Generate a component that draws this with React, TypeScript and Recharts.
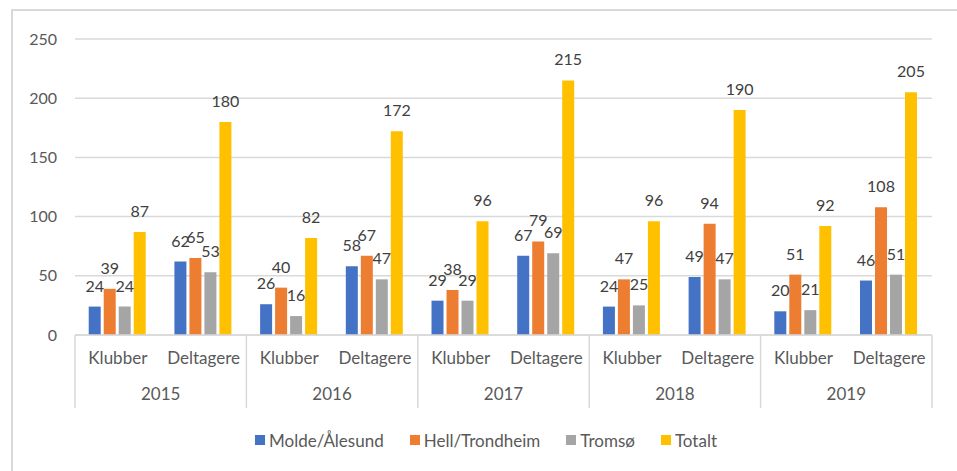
import React from 'react'
import { BarChart, Bar, XAxis, YAxis, CartesianGrid, Legend, LabelList } from 'recharts'

const years = ['2015', '2016', '2017', '2018', '2019']
const groups = ['Klubber', 'Deltagere']
const molde = [24, 62, 26, 58, 29, 67, 24, 49, 20, 46]
const hell = [39, 65, 40, 67, 38, 79, 47, 94, 51, 108]
const tromso = [24, 53, 16, 47, 29, 69, 25, 47, 21, 51]
const totalt = [87, 180, 82, 172, 96, 215, 96, 190, 92, 205]
const yTicks = [0, 50, 100, 150, 200, 250]

const series = [
  { key: 'molde', name: 'Molde/Ålesund', color: '#4472C4' },
  { key: 'hell', name: 'Hell/Trondheim', color: '#ED7D31' },
  { key: 'tromso', name: 'Tromsø', color: '#A5A5A5' },
  { key: 'totalt', name: 'Totalt', color: '#FFC000' },
]

const data = molde.map((_, i) => ({
  cat: groups[i % 2],
  year: years[Math.floor(i / 2)],
  molde: molde[i],
  hell: hell[i],
  tromso: tromso[i],
  totalt: totalt[i],
}))

const FONT = 'Lato, "Noto Sans", sans-serif'
const W = 957
const H = 471
const LEFT = 75
const RIGHT = 932
const BAND = (RIGHT - LEFT) / data.length

function CatTick(props: any) {
  const { x, y, payload } = props
  const i = payload.index
  const d = data[i]
  return (
    <g>
      <text x={x} y={y + 25} textAnchor="middle" dominantBaseline="middle" fill="#595959" fontSize={17} fontFamily={FONT}>
        {d.cat}
      </text>
      {i % 2 === 0 && (
        <>
          <text x={x + BAND / 2} y={y + 61} textAnchor="middle" dominantBaseline="middle" fill="#595959" fontSize={17} fontFamily={FONT}>
            {d.year}
          </text>
          <line x1={x - BAND / 2} x2={x - BAND / 2} y1={y} y2={y + 73} stroke="#d9d9d9" strokeWidth={1.5} />
        </>
      )}
      {i === data.length - 1 && (
        <line x1={x + BAND / 2} x2={x + BAND / 2} y1={y} y2={y + 73} stroke="#d9d9d9" strokeWidth={1.5} />
      )}
    </g>
  )
}

function LegendContent() {
  return (
    <div style={{ display: 'flex', justifyContent: 'center', height: 20, alignItems: 'center', paddingLeft: 51, fontFamily: FONT, fontSize: 17, color: '#595959' }}>
      {series.map((s) => (
        <div key={s.key} style={{ display: 'flex', alignItems: 'center', marginRight: 26 }}>
          <span style={{ width: 10, height: 10, background: s.color, display: 'inline-block', marginRight: 4 }} />
          <span>{s.name}</span>
        </div>
      ))}
    </div>
  )
}

export default function App() {
  return (
    <div style={{ position: 'absolute', left: 0, top: 0, width: W, height: H, background: '#fff', overflow: 'hidden' }}>
      <div style={{ position: 'absolute', left: 11, top: 9, width: W, height: H, border: '2px solid #d9d9d9', boxSizing: 'border-box' }} />
      <div style={{ position: 'absolute', left: 0, top: 0 }}>
        <BarChart
          width={W}
          height={H}
          data={data}
          margin={{ top: 39, right: W - RIGHT, left: 15, bottom: 21 }}
          barCategoryGap="16%"
          barGap={3}
        >
          <CartesianGrid vertical={false} stroke="#d9d9d9" strokeWidth={1.5} />
          <XAxis
            dataKey="cat"
            interval={0}
            height={95}
            tickLine={false}
            tickSize={0}
            tickMargin={0}
            axisLine={{ stroke: '#d9d9d9', strokeWidth: 1.5 }}
            tick={<CatTick />}
          />
          <YAxis
            domain={[0, 250]}
            ticks={yTicks}
            width={60}
            axisLine={false}
            tickLine={false}
            tickSize={0}
            tickMargin={18}
            tick={{ fill: '#595959', fontSize: 16, fontFamily: FONT }}
          />
          <Legend verticalAlign="bottom" content={<LegendContent />} />
          {series.map((s) => (
            <Bar key={s.key} dataKey={s.key} name={s.name} fill={s.color} isAnimationActive={false}>
              <LabelList dataKey={s.key} position="top" offset={15} fill="#404040" fontSize={16} fontFamily={FONT} />
            </Bar>
          ))}
        </BarChart>
      </div>
    </div>
  )
}
